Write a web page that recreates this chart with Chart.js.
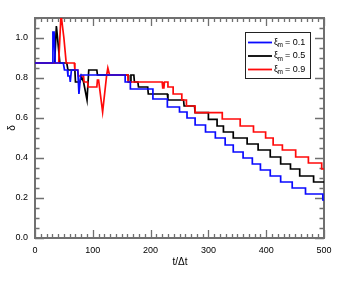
<!DOCTYPE html>
<html>
<head>
<meta charset="utf-8">
<script src="https://cdn.jsdelivr.net/npm/chart.js@4"></script>
<style>
  html, body { margin: 0; padding: 0; background: #fff; }
  canvas { display: block; }
</style>
</head>
<body>
<canvas id="chart" width="360" height="282"></canvas>
<script>
// data: [t/Δt, δ]
const seriesNames = ['0.1', '0.5', '0.9'];
const seriesColors = ['#0a0aff', '#000000', '#ff0a0a'];

const blue = [
  [0,0.875],[30,0.875],[31,1.03],[33,1.03],[35,0.875],[49,0.875],[51,0.84],[56,0.84],
  [57,0.81],[60,0.81],[61,0.78],[63,0.84],[74,0.84],[76,0.72],[79,0.815],[156,0.815],
  [156,0.78],[165,0.78],[165,0.745],[204,0.745],[204,0.695],[229,0.695],[229,0.655],
  [250,0.655],[250,0.63],[263,0.63],[263,0.60],[277,0.60],[277,0.565],[295,0.565],
  [295,0.53],[312,0.53],[312,0.50],[329,0.50],[329,0.465],[343,0.465],[343,0.43],
  [360,0.43],[360,0.40],[376,0.40],[376,0.37],[390,0.37],[390,0.34],[407,0.34],
  [407,0.31],[425,0.31],[425,0.28],[445,0.28],[445,0.25],[468,0.25],[468,0.22],
  [498,0.22],[498,0.19],[500,0.19]
];
const black = [
  [0,0.875],[34,0.875],[37,1.06],[39,1.0],[43,0.875],[55,0.875],[57,0.84],[69,0.84],
  [70,0.78],[78,0.78],[80,0.81],[84,0.78],[90,0.69],[93,0.84],[107,0.84],[108,0.815],
  [161,0.815],[162,0.78],[165,0.78],[166,0.815],[171,0.815],[172,0.78],[178,0.78],
  [179,0.755],[195,0.755],[196,0.72],[229,0.72],[230,0.69],[257,0.69],[258,0.66],
  [276,0.66],[277,0.627],[300,0.627],[300,0.593],[315,0.593],[315,0.56],[326,0.56],
  [326,0.53],[343,0.53],[343,0.50],[367,0.50],[367,0.47],[386,0.47],[386,0.44],
  [407,0.44],[407,0.405],[425,0.405],[425,0.37],[442,0.37],[442,0.345],[458,0.345],
  [458,0.31],[482,0.31],[482,0.28],[500,0.28]
];
const red = [
  [0,0.875],[41,0.875],[45,1.12],[50,1.0],[54,0.875],[68,0.875],[69,0.84],[74,0.84],
  [75,0.81],[84,0.81],[85,0.78],[91,0.78],[92,0.755],[107,0.755],[108,0.79],[110,0.79],
  [117,0.63],[124,0.815],[126,0.85],[129,0.815],[161,0.815],[161,0.78],[220,0.78],
  [221,0.75],[223,0.75],[224,0.78],[230,0.78],[230,0.755],[239,0.755],[239,0.72],
  [254,0.72],[254,0.69],[262,0.69],[262,0.66],[277,0.66],[277,0.627],[324,0.627],
  [324,0.595],[355,0.595],[355,0.56],[378,0.56],[378,0.53],[399,0.53],[399,0.50],
  [412,0.50],[412,0.465],[428,0.465],[428,0.44],[451,0.44],[451,0.405],[473,0.405],
  [473,0.375],[496,0.375],[496,0.345],[500,0.345]
];

const xTicks = [0, 100, 200, 300, 400, 500];
const yTicks = [0, 0.2, 0.4, 0.6, 0.8, 1.0];

const FONT = '"Liberation Sans", Arial, sans-serif';

function toPoints(arr) {
  return arr.map(p => ({ x: p[0], y: p[1] }));
}

// frame with inward ticks on all four sides, drawn under the lines
const framePlugin = {
  id: 'frame',
  beforeDatasetsDraw(chart) {
    const ctx = chart.ctx;
    const a = chart.chartArea;
    const x = chart.scales.x;
    const y = chart.scales.y;
    ctx.save();
    ctx.strokeStyle = '#707070';
    ctx.lineWidth = 1.3;
    ctx.beginPath();
    for (let k = 0; k <= 50; k++) {
      const px = Math.round(x.getPixelForValue(k * 10)) + 0.5;
      const len = k % 10 === 0 ? 8 : 4;
      ctx.moveTo(px, a.bottom); ctx.lineTo(px, a.bottom - len);
      ctx.moveTo(px, a.top); ctx.lineTo(px, a.top + len);
    }
    for (let k = 0; k <= 22; k++) {
      const py = Math.round(y.getPixelForValue(k * 0.05)) + 0.5;
      const len = k % 4 === 0 ? 9 : 4.5;
      ctx.moveTo(a.left, py); ctx.lineTo(a.left + len, py);
      ctx.moveTo(a.right, py); ctx.lineTo(a.right - len, py);
    }
    ctx.stroke();
    ctx.lineWidth = 2;
    ctx.strokeRect(a.left, a.top, a.right - a.left, a.bottom - a.top);
    ctx.restore();
  },
  afterDraw(chart) {
    const ctx = chart.ctx;
    const a = chart.chartArea;
    ctx.save();
    // axis titles
    ctx.fillStyle = '#000';
    ctx.font = '10px ' + FONT;
    ctx.textAlign = 'center';
    ctx.textBaseline = 'middle';
    ctx.fillText('t/\u0394t', 180, 262);
    ctx.save();
    ctx.translate(12, (a.top + a.bottom) / 2);
    ctx.rotate(-Math.PI / 2);
    ctx.fillText('\u03b4', 0, 0);
    ctx.restore();

    // legend
    const bx = 245, by = 32, bw = 65, bh = 46;
    ctx.fillStyle = '#fff';
    ctx.fillRect(bx, by, bw, bh);
    ctx.strokeStyle = '#222';
    ctx.lineWidth = 1;
    ctx.strokeRect(bx + 0.5, by + 0.5, bw, bh);
    seriesNames.forEach((name, i) => {
      const ly = 42.5 + i * 13.5;
      ctx.strokeStyle = seriesColors[i];
      ctx.lineWidth = 1.8;
      ctx.beginPath();
      ctx.moveTo(248, ly); ctx.lineTo(272, ly);
      ctx.stroke();
      ctx.fillStyle = '#000';
      ctx.textAlign = 'left';
      ctx.textBaseline = 'middle';
      ctx.font = '9px ' + FONT;
      ctx.fillText('\u03be', 274, ly);
      ctx.font = '6.5px ' + FONT;
      ctx.fillText('m', 277.5, ly + 3);
      ctx.font = '9px ' + FONT;
      ctx.fillText('= ' + name, 285, ly);
    });
    ctx.restore();
  }
};

new Chart(document.getElementById('chart').getContext('2d'), {
  type: 'line',
  data: {
    datasets: [
      { data: toPoints(blue), borderColor: seriesColors[0], order: 0 },
      { data: toPoints(black), borderColor: seriesColors[1], order: 2 },
      { data: toPoints(red), borderColor: seriesColors[2], order: 1 }
    ].map(d => Object.assign(d, {
      borderWidth: 1.7,
      pointRadius: 0,
      fill: false,
      tension: 0
    }))
  },
  options: {
    responsive: false,
    animation: false,
    events: [],
    layout: { padding: { top: 18, right: 36, left: 0, bottom: 0 } },
    plugins: {
      legend: { display: false },
      tooltip: { enabled: false }
    },
    scales: {
      x: {
        type: 'linear',
        min: 0,
        max: 500,
        afterBuildTicks: s => { s.ticks = xTicks.map(v => ({ value: v })); },
        afterFit: s => { s.height = 44; },
        grid: { display: false, drawTicks: false },
        border: { display: false },
        ticks: { color: '#000', font: { family: FONT, size: 9 }, padding: 7, maxRotation: 0 }
      },
      y: {
        type: 'linear',
        min: 0,
        max: 1.1,
        afterBuildTicks: s => { s.ticks = yTicks.map(v => ({ value: v })); },
        afterFit: s => { s.width = 35; },
        grid: { display: false, drawTicks: false },
        border: { display: false },
        ticks: {
          color: '#000',
          font: { family: FONT, size: 9 },
          padding: 7,
          callback: v => v.toFixed(1)
        }
      }
    }
  },
  plugins: [framePlugin]
});
</script>
</body>
</html>
